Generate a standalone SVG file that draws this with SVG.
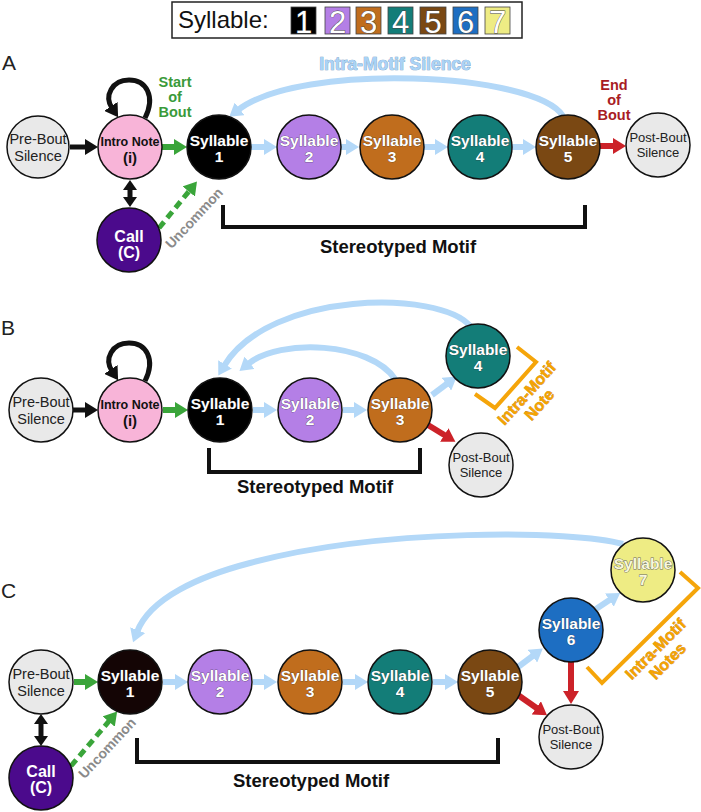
<svg xmlns="http://www.w3.org/2000/svg" width="701" height="812" viewBox="0 0 701 812">
<style>
text{font-family:"Liberation Sans",Arial,sans-serif}
.nd{stroke:#111;stroke-width:1.5}
.gray{fill:#e9e9e9}
.syl{font-size:15.5px;font-weight:bold;fill:#fff;stroke:#333;stroke-width:0.5;paint-order:stroke;text-anchor:middle}
.sil{font-size:14.5px;fill:#222;text-anchor:middle}
.sil2{font-size:13px;fill:#222;text-anchor:middle}
.intro{font-weight:bold;fill:#111;text-anchor:middle}
.call{font-size:16px;font-weight:bold;fill:#fff;text-anchor:middle}
.blue{fill:none;stroke:#b3d8f8;stroke-width:6}
.grn{fill:none;stroke:#3aa53a;stroke-width:6}
.red{fill:none;stroke:#cc2229;stroke-width:6}
.blk{fill:none;stroke:#111;stroke-width:5}
.dash{fill:none;stroke:#3aa53a;stroke-width:5;stroke-dasharray:8 5}
.brk{fill:none;stroke:#111;stroke-width:4}
.obrk{fill:none;stroke:#f5a50a;stroke-width:4}
.motif{font-size:18.5px;font-weight:bold;fill:#111;text-anchor:middle}
.unc{font-size:14px;font-weight:bold;fill:#8a8a8a;text-anchor:middle}
.orn{font-size:16px;font-weight:bold;fill:#f5a300;stroke:#b87300;stroke-width:0.5;paint-order:stroke;text-anchor:middle}
.lbl{font-size:21px;fill:#222}
.leg{font-size:31px;fill:#fff;stroke:#444;stroke-width:0.8;paint-order:stroke;text-anchor:middle}
.sq{stroke:#444;stroke-width:0.8}
</style>
<defs>
<marker id="mB" markerUnits="userSpaceOnUse" markerWidth="14" markerHeight="16" refX="2" refY="8" orient="auto"><path d="M0,0 L13,8 L0,16 z" fill="#b3d8f8"/></marker>
<marker id="mG" markerUnits="userSpaceOnUse" markerWidth="14" markerHeight="16" refX="2" refY="8" orient="auto"><path d="M0,0 L13,8 L0,16 z" fill="#3aa53a"/></marker>
<marker id="mR" markerUnits="userSpaceOnUse" markerWidth="14" markerHeight="16" refX="2" refY="8" orient="auto"><path d="M0,0 L13,8 L0,16 z" fill="#cc2229"/></marker>
<marker id="mK" markerUnits="userSpaceOnUse" markerWidth="14" markerHeight="16" refX="2" refY="8" orient="auto"><path d="M0,0 L13,8 L0,16 z" fill="#111"/></marker>
<marker id="mk" markerUnits="userSpaceOnUse" markerWidth="11" markerHeight="14" refX="1" refY="7" orient="auto-start-reverse"><path d="M0,0 L10,7 L0,14 z" fill="#111"/></marker>
</defs>
<rect width="701" height="812" fill="#fff"/>

<g id="legend">
<rect x="172" y="2" width="350" height="36" fill="#fff" stroke="#222" stroke-width="1.5"/>
<text x="178" y="28" style="font-size:24px;fill:#111">Syllable:</text>
<rect class="sq" x="291" y="7" width="25" height="27" fill="#000"/><text class="leg" x="303.5" y="33">1</text>
<rect class="sq" x="325" y="7" width="25" height="27" fill="#b47fe6"/><text class="leg" x="337.5" y="33">2</text>
<rect class="sq" x="356" y="7" width="25" height="27" fill="#c06d1d"/><text class="leg" x="368.5" y="33">3</text>
<rect class="sq" x="388" y="7" width="25" height="27" fill="#137d78"/><text class="leg" x="400.5" y="33">4</text>
<rect class="sq" x="420" y="7" width="26" height="27" fill="#7a4813"/><text class="leg" x="433" y="33">5</text>
<rect class="sq" x="453" y="7" width="25" height="27" fill="#1d6ec2"/><text class="leg" x="465.5" y="33">6</text>
<rect class="sq" x="485" y="7" width="25" height="27" fill="#eeec84"/><text class="leg" x="497.5" y="33">7</text>
</g>

<g id="labels">
<text class="lbl" x="2" y="70">A</text>
<text class="lbl" x="1" y="335">B</text>
<text class="lbl" x="1" y="598">C</text>
<text x="395" y="70" style="font-size:17.5px;font-weight:bold;fill:#aad3f6;stroke:#6f98c0;stroke-width:0.7;paint-order:stroke;text-anchor:middle">Intra-Motif Silence</text>
<g style="font-size:14.5px;font-weight:bold;fill:#3a9a3a;text-anchor:middle">
<text x="175" y="87">Start</text><text x="175" y="102">of</text><text x="175" y="117">Bout</text>
</g>
<g style="font-size:14.5px;font-weight:bold;fill:#a81c24;text-anchor:middle">
<text x="614" y="90">End</text><text x="614" y="105">of</text><text x="614" y="120">Bout</text>
</g>
<text class="unc" transform="translate(194,218) rotate(-47)" y="5">Uncommon</text>
<text class="unc" transform="translate(107,748) rotate(-47)" y="5">Uncommon</text>
<g transform="translate(533,399) rotate(-48)"><text class="orn" y="-3">Intra-Motif</text><text class="orn" y="14">Note</text></g>
<g transform="translate(661.5,655) rotate(-45)"><text class="orn" y="-3">Intra-Motif</text><text class="orn" y="14">Notes</text></g>
<text class="motif" x="398" y="253">Stereotyped Motif</text>
<text class="motif" x="315" y="493">Stereotyped Motif</text>
<text class="motif" x="311" y="787">Stereotyped Motif</text>
</g>

<g id="brackets">
<path class="brk" d="M223,205 V227 H585 V205"/>
<path class="brk" d="M209,448 V472 H420 V448"/>
<path class="brk" d="M137,738 V762 H498 V738"/>
<path class="obrk" d="M517,347 L536,362 L495,408 L475,394"/>
<path class="obrk" d="M680,572 L698,588 L602,683 L587,667"/>
</g>

<g id="connectors">
<!-- A -->
<path class="blk" d="M70,147 L87,147" marker-end="url(#mK)"/>
<path class="grn" d="M162,147 L176,147" marker-end="url(#mG)"/>
<path class="blue" d="M251,147 L266,147" marker-end="url(#mB)"/>
<path class="blue" d="M341,147 L348,147" marker-end="url(#mB)"/>
<path class="blue" d="M424,147 L437,147" marker-end="url(#mB)"/>
<path class="blue" d="M512,147 L525,147" marker-end="url(#mB)"/>
<path class="red" d="M600,146 L615,146" marker-end="url(#mR)"/>
<path class="blk" d="M130,189 L130,198" marker-start="url(#mk)" marker-end="url(#mk)"/>
<path class="dash" d="M159,228 L190,190" marker-end="url(#mG)"/>
<path class="blk" d="M145,118 C156,96 146,80 129,80 C112,80 104,96 112,108" marker-end="url(#mK)"/>
<path class="blue" d="M563,116 C535,72 300,62 238,110" marker-end="url(#mB)"/>
<!-- B -->
<path class="blk" d="M73,410 L87,410" marker-end="url(#mK)"/>
<path class="grn" d="M163,410 L177,410" marker-end="url(#mG)"/>
<path class="blue" d="M253,410 L266,410" marker-end="url(#mB)"/>
<path class="blue" d="M343,410 L356,410" marker-end="url(#mB)"/>
<path class="blue" d="M432,395 L448,383" marker-end="url(#mB)"/>
<path class="red" d="M428,425 L446,436" marker-end="url(#mR)"/>
<path class="blk" d="M145,381 C156,359 146,343 129,343 C112,343 104,359 112,371" marker-end="url(#mK)"/>
<path class="blue" d="M470,326 C440,290 270,290 224,366" marker-end="url(#mB)"/>
<path class="blue" d="M395,379 C370,342 280,338 248,364" marker-end="url(#mB)"/>
<!-- C -->
<path class="grn" d="M74,682 L87,682" marker-end="url(#mG)"/>
<path class="blue" d="M163,682 L177,682" marker-end="url(#mB)"/>
<path class="blue" d="M253,682 L266,682" marker-end="url(#mB)"/>
<path class="blue" d="M343,682 L357,682" marker-end="url(#mB)"/>
<path class="blue" d="M433,682 L447,682" marker-end="url(#mB)"/>
<path class="blue" d="M518,667 L534,655" marker-end="url(#mB)"/>
<path class="blue" d="M596,609 L611,599" marker-end="url(#mB)"/>
<path class="red" d="M518,695 L538,709" marker-end="url(#mR)"/>
<path class="red" d="M571,662 L571,693" marker-end="url(#mR)"/>
<path class="blk" d="M41,723 L41,737" marker-start="url(#mk)" marker-end="url(#mk)"/>
<path class="dash" d="M71,766 L110,720" marker-end="url(#mG)"/>
<path class="blue" d="M623,544 C575,530 380,528 250,563 C200,576 150,598 137,632" marker-end="url(#mB)"/>
</g>

<!-- Panel A nodes -->
<g id="A_pre"><circle class="nd gray" cx="38" cy="147" r="31"/><text class="sil" x="38" y="144">Pre-Bout</text><text class="sil" x="38" y="161">Silence</text></g>
<g id="A_intro"><circle class="nd" cx="130" cy="147" r="32" fill="#f8b4d8"/><text class="intro" x="130" y="146" font-size="12.5">Intro Note</text><text class="intro" x="130" y="163" font-size="15">(i)</text></g>
<g id="A_call"><circle class="nd" cx="129" cy="240" r="32" fill="#4b0a8c"/><text class="call" x="129" y="242">Call</text><text class="call" x="129" y="258">(C)</text></g>
<g id="A_s1"><circle class="nd" cx="219" cy="147" r="32" fill="#000"/><text class="syl" x="219" y="146">Syllable</text><text class="syl" x="219" y="162">1</text></g>
<g id="A_s2"><circle class="nd" cx="309" cy="147" r="32" fill="#b47fe6"/><text class="syl" x="309" y="146">Syllable</text><text class="syl" x="309" y="162">2</text></g>
<g id="A_s3"><circle class="nd" cx="392" cy="147" r="32" fill="#c06d1d"/><text class="syl" x="392" y="146">Syllable</text><text class="syl" x="392" y="162">3</text></g>
<g id="A_s4"><circle class="nd" cx="480" cy="147" r="32" fill="#137d78"/><text class="syl" x="480" y="146">Syllable</text><text class="syl" x="480" y="162">4</text></g>
<g id="A_s5"><circle class="nd" cx="568" cy="147" r="32" fill="#7a4813"/><text class="syl" x="568" y="146">Syllable</text><text class="syl" x="568" y="162">5</text></g>
<g id="A_post"><circle class="nd gray" cx="658" cy="145" r="32"/><text class="sil2" x="658" y="142">Post-Bout</text><text class="sil2" x="658" y="157">Silence</text></g>

<!-- Panel B nodes -->
<g id="B_pre"><circle class="nd gray" cx="41" cy="410" r="32"/><text class="sil" x="41" y="407">Pre-Bout</text><text class="sil" x="41" y="424">Silence</text></g>
<g id="B_intro"><circle class="nd" cx="130" cy="410" r="32" fill="#f8b4d8"/><text class="intro" x="130" y="409" font-size="12.5">Intro Note</text><text class="intro" x="130" y="426" font-size="15">(i)</text></g>
<g id="B_s1"><circle class="nd" cx="220" cy="410" r="32" fill="#000"/><text class="syl" x="220" y="409">Syllable</text><text class="syl" x="220" y="425">1</text></g>
<g id="B_s2"><circle class="nd" cx="310" cy="410" r="32" fill="#b47fe6"/><text class="syl" x="310" y="409">Syllable</text><text class="syl" x="310" y="425">2</text></g>
<g id="B_s3"><circle class="nd" cx="400" cy="410" r="32" fill="#c06d1d"/><text class="syl" x="400" y="409">Syllable</text><text class="syl" x="400" y="425">3</text></g>
<g id="B_s4"><circle class="nd" cx="478" cy="356" r="32" fill="#137d78"/><text class="syl" x="478" y="355">Syllable</text><text class="syl" x="478" y="371">4</text></g>
<g id="B_post"><circle class="nd gray" cx="481" cy="465" r="32"/><text class="sil2" x="481" y="462">Post-Bout</text><text class="sil2" x="481" y="477">Silence</text></g>

<!-- Panel C nodes -->
<g id="C_pre"><circle class="nd gray" cx="41" cy="682" r="32"/><text class="sil" x="41" y="679">Pre-Bout</text><text class="sil" x="41" y="696">Silence</text></g>
<g id="C_call"><circle class="nd" cx="41" cy="778" r="32" fill="#4b0a8c"/><text class="call" x="41" y="777">Call</text><text class="call" x="41" y="793">(C)</text></g>
<g id="C_s1"><circle class="nd" cx="130" cy="682" r="32" fill="#140505"/><text class="syl" x="130" y="681">Syllable</text><text class="syl" x="130" y="697">1</text></g>
<g id="C_s2"><circle class="nd" cx="220" cy="682" r="32" fill="#b47fe6"/><text class="syl" x="220" y="681">Syllable</text><text class="syl" x="220" y="697">2</text></g>
<g id="C_s3"><circle class="nd" cx="310" cy="682" r="32" fill="#c06d1d"/><text class="syl" x="310" y="681">Syllable</text><text class="syl" x="310" y="697">3</text></g>
<g id="C_s4"><circle class="nd" cx="400" cy="682" r="32" fill="#137d78"/><text class="syl" x="400" y="681">Syllable</text><text class="syl" x="400" y="697">4</text></g>
<g id="C_s5"><circle class="nd" cx="490" cy="682" r="32" fill="#7a4813"/><text class="syl" x="490" y="681">Syllable</text><text class="syl" x="490" y="697">5</text></g>
<g id="C_s6"><circle class="nd" cx="571" cy="630" r="32" fill="#1d6ec2"/><text class="syl" x="571" y="629">Syllable</text><text class="syl" x="571" y="645">6</text></g>
<g id="C_s7"><circle class="nd" cx="643" cy="570" r="32" fill="#eeec84"/><text class="syl" x="643" y="569" style="fill:#f8f8dc;stroke:#666;stroke-width:0.9">Syllable</text><text class="syl" x="643" y="585" style="fill:#f8f8dc;stroke:#666;stroke-width:0.9">7</text></g>
<g id="C_post"><circle class="nd gray" cx="571" cy="737" r="32"/><text class="sil2" x="571" y="734">Post-Bout</text><text class="sil2" x="571" y="749">Silence</text></g>
</svg>
